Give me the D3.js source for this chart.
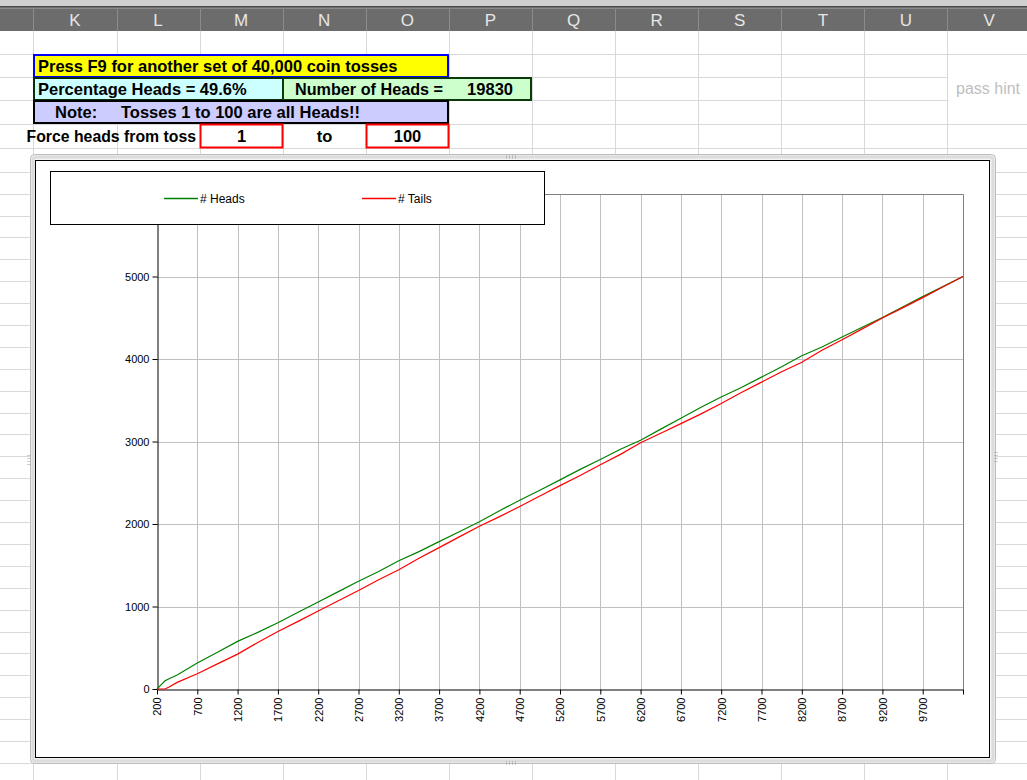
<!DOCTYPE html>
<html>
<head>
<meta charset="utf-8">
<script src="https://cdn.jsdelivr.net/npm/d3@7/dist/d3.min.js"></script>
<style>
  html, body { margin: 0; padding: 0; background: #fff; }
  svg { display: block; font-family: "Liberation Sans", Arial, sans-serif; }
</style>
</head>
<body>
<svg id="chart" width="1027" height="780"></svg>
<script>
// ---------------- DATA ----------------
const tosses = [200, 250, 300, 350, 450, 700, 950, 1200, 1450, 1700, 1950, 2200, 2450, 2700, 2950,
  3200, 3450, 3700, 3950, 4200, 4450, 4700, 4950, 5200, 5450, 5700, 5950, 6200, 6450, 6700,
  6950, 7200, 7450, 7700, 7950, 8200, 8450, 8700, 8950, 9200, 9450, 9700, 9950, 10200];
const heads = [0, 50, 100, 125, 170, 315, 445, 577, 686, 803, 930, 1055, 1180, 1307, 1425,
  1555, 1665, 1786, 1906, 2028, 2161, 2288, 2410, 2535, 2662, 2781, 2906, 3016, 3150, 3283,
  3415, 3540, 3655, 3780, 3905, 4040, 4145, 4266, 4385, 4504, 4630, 4756, 4878, 5000];
const tails = [0, 0, 0, 25, 80, 185, 305, 423, 564, 697, 820, 945, 1070, 1193, 1325,
  1445, 1585, 1714, 1844, 1972, 2089, 2212, 2340, 2465, 2588, 2719, 2844, 2984, 3100, 3217,
  3335, 3460, 3595, 3720, 3845, 3960, 4105, 4234, 4365, 4496, 4620, 4744, 4872, 5000];
const xTickValues = [200, 700, 1200, 1700, 2200, 2700, 3200, 3700, 4200, 4700, 5200, 5700,
  6200, 6700, 7200, 7700, 8200, 8700, 9200, 9700];
const yTickValues = [0, 1000, 2000, 3000, 4000, 5000];
const seriesNames = ["# Heads", "# Tails"];
const seriesColors = ["#008000", "#ff0000"];
const columnLetters = ["K", "L", "M", "N", "O", "P", "Q", "R", "S", "T", "U", "V"];
const infoLines = {
  title: "Press F9 for another set of 40,000 coin tosses",
  pct: "Percentage Heads = 49.6%",
  numLabel: "Number of Heads =",
  numValue: "19830",
  noteLabel: "Note:",
  noteText: "Tosses 1 to 100 are all Heads!!",
  forceLabel: "Force heads from toss",
  from: "1", to: "to", toValue: "100",
  hint: "pass hint"
};

// ---------------- SPREADSHEET BACKGROUND ----------------
const svg = d3.select("#chart");
const colW = 83.1, col0 = 33.4;
const colX = i => col0 + i * colW;

// gridlines
const grid = svg.append("g").attr("stroke", "#d9d9d9").attr("stroke-width", 1);
const rowYs = [54, 77, 100, 123.5, 147.5];
for (let y = 171.7; y < 780; y += 21.9) rowYs.push(y);
rowYs.forEach(y => {
  const yy = Math.round(y) + 0.5;
  const skipV = (Math.round(y) === 77 || Math.round(y) === 100);
  grid.append("line").attr("x1", 0).attr("x2", skipV ? colX(11) : 1027).attr("y1", yy).attr("y2", yy);
});
for (let i = 0; i <= 12; i++) {
  const xx = Math.round(colX(i)) + 0.5;
  grid.append("line").attr("x1", xx).attr("x2", xx).attr("y1", 31).attr("y2", 780);
}

// header
svg.append("rect").attr("x", 0).attr("y", 0).attr("width", 1027).attr("height", 6).attr("fill", "#cfcfcf");
svg.append("rect").attr("x", 0).attr("y", 6).attr("width", 1027).attr("height", 25).attr("fill", "#6c6c6c");
svg.append("line").attr("x1", 0).attr("x2", 1027).attr("y1", 6.5).attr("y2", 6.5).attr("stroke", "#4a4a4a");
svg.append("line").attr("x1", 0).attr("x2", 1027).attr("y1", 8.5).attr("y2", 8.5).attr("stroke", "#8a8a8a");
for (let i = 0; i <= 12; i++) {
  const xx = Math.round(colX(i)) + 0.5;
  svg.append("line").attr("x1", xx).attr("x2", xx).attr("y1", 9).attr("y2", 31).attr("stroke", "#8c8c8c");
}
columnLetters.forEach((c, i) => {
  svg.append("text").attr("x", colX(i) + colW / 2).attr("y", 25.5)
    .attr("text-anchor", "middle").attr("font-size", 17).attr("fill", "#e6e6e6").text(c);
});

// cells
function cell(x, y, w, h, fill, stroke, sw) {
  svg.append("rect").attr("x", x).attr("y", y).attr("width", w).attr("height", h)
    .attr("fill", fill).attr("stroke", stroke).attr("stroke-width", sw);
}
function txt(x, y, s, opts = {}) {
  return svg.append("text").attr("x", x).attr("y", y)
    .attr("font-size", opts.size || 16.5).attr("font-weight", opts.weight || "bold")
    .attr("fill", opts.fill || "#000").attr("text-anchor", opts.anchor || "start").text(s);
}
cell(34, 55, 414, 22, "#ffff00", "#0000ff", 2);
txt(38, 71.5, infoLines.title);
cell(34, 78, 249, 22, "#ccffff", "#0b2b0b", 2);
cell(283, 78, 248, 22, "#ccffcc", "#0b3a0b", 2);
txt(38, 94.5, infoLines.pct);
txt(295, 94.5, infoLines.numLabel, { size: 16.2 });
txt(513, 94.5, infoLines.numValue, { anchor: "end" });
cell(34, 101, 414, 22, "#ccccff", "#000000", 2);
txt(55, 117.5, infoLines.noteLabel);
txt(121, 117.5, infoLines.noteText);
txt(196, 142, infoLines.forceLabel, { anchor: "end", size: 15.8 });
cell(200.5, 124.5, 82, 23, "#ffffff", "#ff0000", 2);
cell(366.5, 124.5, 82, 23, "#ffffff", "#ff0000", 2);
txt(241.5, 142, infoLines.from, { anchor: "middle" });
txt(324.5, 142, infoLines.to, { anchor: "middle" });
txt(407.5, 142, infoLines.toValue, { anchor: "middle" });
txt(956, 94, infoLines.hint, { weight: "normal", fill: "#c0c0c0", size: 16 });

// ---------------- CHART FRAME ----------------
svg.append("rect").attr("x", 30.5).attr("y", 154.5).attr("width", 965).attr("height", 609)
  .attr("rx", 4).attr("fill", "#f2f2f2").attr("stroke", "#bdbdbd").attr("stroke-width", 1);
svg.append("rect").attr("x", 33).attr("y", 157).attr("width", 960).attr("height", 604)
  .attr("rx", 3).attr("fill", "none").attr("stroke", "#dcdcdc").attr("stroke-width", 3);
svg.append("rect").attr("x", 35.5).attr("y", 160.5).attr("width", 954).attr("height", 597)
  .attr("fill", "#ffffff").attr("stroke", "#000").attr("stroke-width", 1);
// resize handles
function handleDots(cx, cy, vertical) {
  for (let k = -2; k <= 1; k++) {
    for (let j = 0; j < 2; j++) {
      const dx = vertical ? j * 2 : k * 3;
      const dy = vertical ? k * 3 : j * 2;
      svg.append("rect").attr("x", cx + dx).attr("y", cy + dy).attr("width", 1).attr("height", 1).attr("fill", "#9a9a9a");
    }
  }
}
handleDots(512, 155.5, false);
handleDots(512, 761.5, false);
handleDots(27.5, 461, true);
handleDots(994.5, 458, true);

// ---------------- PLOT ----------------
const plot = { left: 157, right: 963, top: 194, bottom: 689 };
const x = d3.scaleLinear().domain([200, 10200]).range([plot.left, plot.right]);
const y = d3.scaleLinear().domain([0, 6000]).range([plot.bottom, plot.top]);

const g = svg.append("g");
// vertical gridlines
g.append("g").selectAll("line").data(xTickValues.slice(1)).join("line")
  .attr("x1", d => Math.round(x(d)) + 0.5).attr("x2", d => Math.round(x(d)) + 0.5)
  .attr("y1", plot.top).attr("y2", plot.bottom).attr("stroke", "#c0c0c0");
// horizontal gridlines
g.append("g").selectAll("line").data(yTickValues.slice(1)).join("line")
  .attr("x1", plot.left).attr("x2", plot.right)
  .attr("y1", d => Math.round(y(d)) + 0.5).attr("y2", d => Math.round(y(d)) + 0.5).attr("stroke", "#c0c0c0");
// plot border (top, right)
g.append("path").attr("d", `M${plot.left},${plot.top + 0.5}H${plot.right + 0.5}V${plot.bottom}`)
  .attr("fill", "none").attr("stroke", "#808080");

// axes
const xAxis = d3.axisBottom(x).tickValues(xTickValues.concat([10200])).tickSize(5).tickSizeOuter(0)
  .tickFormat(d => d === 10200 ? "" : d);
const xg = g.append("g").attr("transform", `translate(0,${plot.bottom + 0.5})`).call(xAxis);
xg.select(".domain").attr("stroke", "#000");
xg.selectAll(".tick line").attr("stroke", "#000");
xg.selectAll(".tick text")
  .attr("font-family", "'Liberation Sans', Arial, sans-serif").attr("font-size", 11).attr("fill", "#000")
  .attr("transform", "rotate(-90)").attr("text-anchor", "end")
  .attr("x", -8).attr("y", 0).attr("dy", "0.35em");

const yAxis = d3.axisLeft(y).tickValues(yTickValues).tickSize(5).tickSizeOuter(0).tickFormat(d => d);
const yg = g.append("g").attr("transform", `translate(${plot.left + 0.5},0)`).call(yAxis);
yg.select(".domain").attr("stroke", "#000");
yg.selectAll(".tick line").attr("stroke", "#000");
yg.selectAll(".tick text")
  .attr("font-family", "'Liberation Sans', Arial, sans-serif").attr("font-size", 11).attr("fill", "#000")
  .attr("x", -8);

// lines
const line = d3.line().x((d, i) => x(tosses[i])).y(d => y(d));
[heads, tails].forEach((s, k) => {
  g.append("path").datum(s).attr("d", line).attr("fill", "none")
    .attr("stroke", seriesColors[k]).attr("stroke-width", 1.2);
});

// legend
const lg = svg.append("g");
lg.append("rect").attr("x", 50.5).attr("y", 171.5).attr("width", 494).attr("height", 53)
  .attr("fill", "#fff").attr("stroke", "#000");
const legX = [164, 362];
seriesNames.forEach((n, k) => {
  lg.append("line").attr("x1", legX[k]).attr("x2", legX[k] + 34).attr("y1", 198.5).attr("y2", 198.5)
    .attr("stroke", seriesColors[k]).attr("stroke-width", 1.3);
  lg.append("text").attr("x", legX[k] + 36).attr("y", 202.5).attr("font-size", 12).attr("fill", "#000").text(n);
});
</script>
</body>
</html>
